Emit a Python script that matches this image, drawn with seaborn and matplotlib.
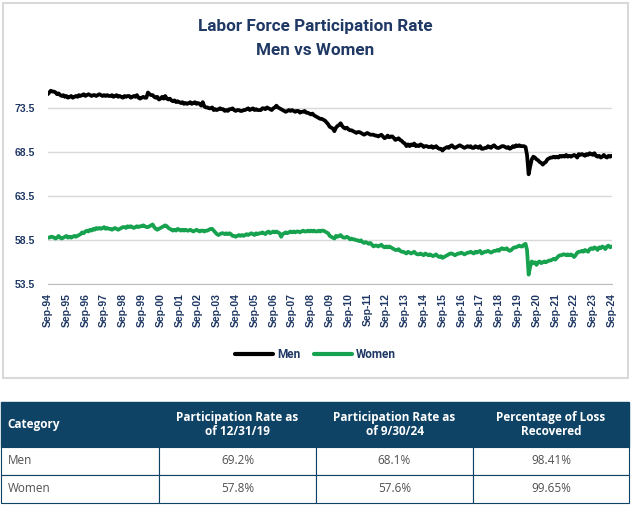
import pandas as pd
import seaborn as sns
from matplotlib import pyplot as plt
from matplotlib.patches import Rectangle

# monthly rates, Sep-94 .. Sep-24
men = [
    75.1, 75.3, 75.5, 75.4,
    75.4, 75.3, 75.1, 75.2, 75.0, 74.9, 75.0, 74.8, 74.9, 74.7, 74.8, 74.9,
    74.7, 74.8, 74.9, 74.8, 75.0, 74.9, 75.0, 75.1, 74.9, 75.0, 75.1, 75.0,
    74.9, 75.0, 75.0, 74.9, 75.0, 75.1, 75.0, 74.9, 75.0, 74.9, 75.0, 74.9,
    74.9, 75.0, 74.8, 74.9, 75.0, 74.8, 74.9, 74.8, 74.7, 74.9, 74.8, 74.9,
    74.9, 74.7, 74.8, 74.9, 74.8, 75.0, 74.7, 74.6, 74.7, 74.8, 74.7, 74.7,
    75.3, 75.1, 75.0, 75.0, 74.8, 74.7, 74.8, 74.5, 74.6, 74.8, 74.6, 74.9,
    74.6, 74.5, 74.6, 74.4, 74.3, 74.4, 74.2, 74.3, 74.2, 74.1, 74.2, 74.0,
    74.1, 74.0, 74.1, 74.2, 74.0, 74.1, 74.2, 74.0, 74.1, 74.0, 73.8, 74.2,
    73.7, 73.6, 73.6, 73.5, 73.5, 73.6, 73.3, 73.4, 73.3, 73.4, 73.5, 73.4,
    73.4, 73.2, 73.3, 73.2, 73.4, 73.4, 73.5, 73.3, 73.2, 73.3, 73.3, 73.2,
    73.2, 73.3, 73.3, 73.4, 73.5, 73.3, 73.4, 73.5, 73.3, 73.4, 73.3, 73.3,
    73.3, 73.5, 73.5, 73.4, 73.6, 73.5, 73.4, 73.3, 73.5, 73.6, 73.8, 73.6,
    73.5, 73.4, 73.3, 73.2, 73.1, 73.2, 73.3, 73.2, 73.3, 73.2, 73.1, 73.2,
    73.2, 73.0, 73.1, 73.1, 73.2, 73.0, 73.0, 72.9, 72.8, 72.9, 72.7, 72.6,
    72.5, 72.4, 72.3, 72.3, 72.2, 72.1, 71.9, 71.7, 71.4, 71.3, 71.2, 70.9,
    71.3, 71.5, 71.6, 71.8, 71.5, 71.3, 71.2, 71.3, 71.1, 71.0, 71.0, 70.9,
    70.8, 70.7, 70.8, 70.8, 70.7, 70.6, 70.5, 70.6, 70.7, 70.6, 70.5, 70.5,
    70.5, 70.4, 70.4, 70.3, 70.4, 70.5, 70.3, 70.1, 70.2, 70.4, 70.2, 70.3,
    70.3, 70.1, 69.9, 70.0, 70.1, 69.9, 69.8, 69.6, 69.5, 69.2, 69.4, 69.2,
    69.4, 69.3, 69.5, 69.2, 69.3, 69.2, 69.4, 69.3, 69.1, 69.2, 69.2, 69.1,
    69.1, 69.2, 69.0, 69.1, 69.2, 69.0, 68.9, 68.9, 68.7, 68.9, 69.0, 69.1,
    69.0, 69.2, 69.3, 69.1, 69.0, 69.1, 69.2, 69.3, 69.2, 69.1, 69.0, 69.1,
    69.2, 69.1, 69.2, 69.0, 69.0, 69.2, 69.1, 69.0, 69.2, 68.9, 68.9, 69.0,
    69.0, 69.2, 69.1, 69.0, 69.2, 69.3, 69.1, 69.0, 69.0, 69.1, 69.2, 69.2,
    69.1, 69.0, 69.1, 68.9, 69.0, 69.2, 69.1, 69.3, 69.2, 69.3, 69.2, 69.2,
    69.2, 69.1, 68.2, 66.0, 66.9, 67.7, 68.0, 67.9, 67.7, 67.6, 67.4, 67.3,
    67.1, 67.3, 67.4, 67.7, 67.8, 67.9, 67.9, 68.0, 67.9, 68.0, 67.9, 68.1,
    68.0, 68.1, 68.0, 68.2, 68.0, 68.1, 68.0, 68.1, 68.2, 68.1, 67.9, 68.3,
    68.2, 68.3, 68.2, 68.1, 68.3, 68.2, 68.4, 68.3, 68.2, 68.4, 68.1, 68.0,
    68.1, 67.9, 68.0, 68.2, 68.0, 67.9, 68.1, 68.0, 68.1,
]

women = [
    58.8, 58.8, 58.9, 58.9,
    58.8, 58.7, 58.8, 59.0, 58.8, 58.7, 58.8, 58.9, 59.0, 58.8, 58.9, 58.8,
    58.9, 59.0, 58.9, 59.0, 59.1, 59.2, 59.4, 59.3, 59.5, 59.6, 59.5, 59.7,
    59.6, 59.8, 59.7, 59.9, 59.8, 59.9, 59.8, 59.9, 60.0, 59.8, 59.9, 59.8,
    59.8, 59.7, 59.8, 59.9, 59.8, 59.7, 59.8, 59.9, 60.0, 60.0, 59.9, 60.1,
    60.0, 60.1, 60.0, 59.9, 60.0, 60.1, 60.0, 60.1, 60.1, 60.2, 60.1, 60.0,
    60.0, 60.1, 60.2, 60.3, 60.0, 59.8, 59.7, 59.8, 59.9, 60.0, 60.1, 60.2,
    60.1, 59.9, 59.8, 59.7, 59.6, 59.7, 59.6, 59.8, 59.7, 59.6, 59.7, 59.6,
    59.7, 59.6, 59.6, 59.7, 59.6, 59.5, 59.6, 59.7, 59.6, 59.5, 59.6, 59.6,
    59.5, 59.6, 59.6, 59.7, 59.8, 59.8, 59.6, 59.4, 59.2, 59.1, 59.2, 59.3,
    59.3, 59.2, 59.3, 59.2, 59.3, 59.2, 59.0, 59.0, 58.9, 59.0, 59.1, 59.0,
    59.1, 59.0, 59.1, 59.2, 59.1, 59.2, 59.3, 59.2, 59.1, 59.3, 59.2, 59.3,
    59.3, 59.4, 59.3, 59.2, 59.4, 59.5, 59.3, 59.4, 59.5, 59.4, 59.5, 59.4,
    59.3, 58.9, 59.2, 59.3, 59.4, 59.3, 59.4, 59.5, 59.4, 59.5, 59.4, 59.5,
    59.5, 59.4, 59.5, 59.6, 59.5, 59.5, 59.6, 59.5, 59.6, 59.5, 59.6, 59.5,
    59.5, 59.6, 59.5, 59.6, 59.6, 59.5, 59.4, 59.3, 59.0, 58.9, 58.8, 58.7,
    59.0, 58.9, 59.0, 59.1, 58.9, 58.8, 58.8, 58.9, 58.8, 58.6, 58.7, 58.6,
    58.6, 58.5, 58.5, 58.4, 58.5, 58.3, 58.2, 58.3, 58.2, 58.1, 58.2, 58.0,
    57.8, 57.9, 57.9, 57.8, 57.9, 58.0, 57.8, 57.7, 57.8, 57.7, 57.8, 57.7,
    57.6, 57.5, 57.4, 57.4, 57.5, 57.3, 57.2, 57.2, 57.1, 57.0, 57.2, 57.1,
    57.0, 57.1, 57.2, 57.0, 56.9, 56.9, 57.0, 56.9, 56.8, 57.0, 56.9, 56.8,
    56.9, 56.8, 56.7, 56.8, 56.9, 56.7, 56.6, 56.7, 56.5, 56.6, 56.7, 56.8,
    56.9, 57.0, 57.0, 56.9, 56.8, 56.9, 57.0, 57.0, 57.1, 57.0, 56.9, 57.0,
    57.1, 57.1, 57.2, 57.1, 57.0, 57.2, 57.1, 57.2, 57.3, 57.0, 57.1, 57.2,
    57.2, 57.3, 57.2, 57.1, 57.2, 57.3, 57.3, 57.4, 57.3, 57.5, 57.6, 57.5,
    57.5, 57.6, 57.4, 57.3, 57.4, 57.6, 57.7, 57.7, 57.8, 57.9, 57.8, 57.8,
    58.0, 58.1, 57.4, 54.6, 55.5, 56.1, 55.9, 56.0, 55.7, 56.0, 56.1, 55.9,
    56.0, 56.1, 56.0, 56.1, 56.2, 56.2, 56.3, 56.4, 56.3, 56.5, 56.7, 56.8,
    56.8, 56.9, 56.9, 56.8, 56.9, 56.8, 56.9, 56.8, 56.6, 56.8, 57.1, 57.2,
    57.2, 57.3, 57.2, 57.4, 57.3, 57.2, 57.5, 57.6, 57.5, 57.7, 57.6, 57.4,
    57.7, 57.6, 57.8, 57.7, 57.5, 57.8, 57.9, 57.7, 57.8,
]

y_ticks = [53.5, 58.5, 63.5, 68.5, 73.5]

table_header = ['Category', 'Participation Rate as\nof 12/31/19',
                'Participation Rate as\nof 9/30/24', 'Percentage of Loss\nRecovered']
table_rows = [['Men', '69.2%', '68.1%', '98.41%'],
              ['Women', '57.8%', '57.6%', '99.65%']]

navy = '#1f3864'
head_blue = '#0f4366'

months = pd.date_range('1994-09-01', '2024-09-01', freq='MS')
df = pd.DataFrame({
    'date': list(months) * 2,
    'rate': men + women,
    'group': ['Men'] * len(men) + ['Women'] * len(women),
})

sns.set_style('white')
plt.rcParams['font.family'] = ['Roboto', 'DejaVu Sans']

fig = plt.figure(figsize=(6.31, 5.07), dpi=100)
W, H = 631, 507

# light frame round the chart
fig.patches.append(Rectangle((3 / W, 1 - 378 / H), 625 / W, 375 / H,
                             transform=fig.transFigure, fill=False,
                             edgecolor='#d9d9d9', linewidth=1.5))

fig.text(0.5, 1 - 26 / H, 'Labor Force Participation Rate', ha='center', va='center',
         fontsize=12.3, fontweight='bold', color=navy)
fig.text(0.5, 1 - 50 / H, 'Men vs Women', ha='center', va='center',
         fontsize=12.3, fontweight='bold', color=navy)

ax = fig.add_axes([47.7 / W, 1 - 284.3 / H, (611.7 - 47.7) / W, (284.3 - 81.9) / H])
sns.lineplot(data=df, x='date', y='rate', hue='group',
             palette={'Men': 'black', 'Women': '#17a24f'},
             linewidth=2.7, ax=ax)

ax.set_ylim(53.5, 76.5)
ax.set_xlim(months[0], months[-1])
ax.set_yticks(y_ticks)
ax.set_yticklabels([f'{v:.1f}' for v in y_ticks], fontfamily='Liberation Sans',
                   fontweight='bold', fontsize=7.5, color=navy)
tick_dates = months[::12]
ax.set_xticks(tick_dates)
ax.set_xticklabels([d.strftime('%b-%y') for d in tick_dates], rotation=90,
                   fontfamily='Liberation Sans', fontweight='bold', fontsize=7.5, color=navy)
ax.tick_params(axis='y', length=0, pad=9)
ax.tick_params(axis='x', length=4, width=0.8, color='#bfbfbf', pad=2, direction='out')
ax.grid(axis='y', color='#d9d9d9', linewidth=1)
ax.set_axisbelow(True)
for side in ['top', 'right', 'left']:
    ax.spines[side].set_visible(False)
ax.spines['bottom'].set_color('#bfbfbf')
ax.set_xlabel('')
ax.set_ylabel('')

sns.move_legend(ax, 'center', bbox_to_anchor=(0.5, 1 - 355 / H), bbox_transform=fig.transFigure,
                ncol=2, frameon=False, title=None, handlelength=3.2, handletextpad=0.3,
                columnspacing=1.2, prop={'weight': 'bold', 'size': 8.5})
leg = ax.get_legend()
for t in leg.get_texts():
    t.set_color(navy)
for line in leg.get_lines():
    line.set_linewidth(3)

# summary table
tax = fig.add_axes([0, 0, 1, 1], zorder=5)
tax.set_xlim(0, W)
tax.set_ylim(H, 0)
tax.axis('off')
col_edges = [1, 159, 316, 473, 629]
row_edges = [402, 447, 475, 503]
tax.add_patch(Rectangle((col_edges[0], row_edges[0]), col_edges[-1] - col_edges[0],
                        row_edges[1] - row_edges[0], facecolor=head_blue, edgecolor=head_blue))
for i, txt in enumerate(table_header):
    yc = (row_edges[0] + row_edges[1]) / 2
    if i == 0:
        tax.text(col_edges[0] + 6, yc, txt, ha='left', va='center', color='white',
                 fontsize=8.5, fontweight='bold', fontfamily='Open Sans')
    else:
        tax.text((col_edges[i] + col_edges[i + 1]) / 2, yc, txt, ha='center', va='center',
                 color='white', fontsize=8.5, fontweight='bold', fontfamily='Open Sans',
                 linespacing=1.1)
for r, row in enumerate(table_rows):
    y0, y1 = row_edges[r + 1], row_edges[r + 2]
    for c, txt in enumerate(row):
        tax.add_patch(Rectangle((col_edges[c], y0), col_edges[c + 1] - col_edges[c], y1 - y0,
                                facecolor='white', edgecolor=head_blue, linewidth=0.8))
        if c == 0:
            tax.text(col_edges[0] + 7, (y0 + y1) / 2, txt, ha='left', va='center',
                     color='#505050', fontsize=8.5, fontfamily='Open Sans')
        else:
            tax.text((col_edges[c] + col_edges[c + 1]) / 2, (y0 + y1) / 2, txt, ha='center',
                     va='center', color='#505050', fontsize=8.5, fontfamily='Open Sans')

fig.savefig('out.png', dpi=100)
